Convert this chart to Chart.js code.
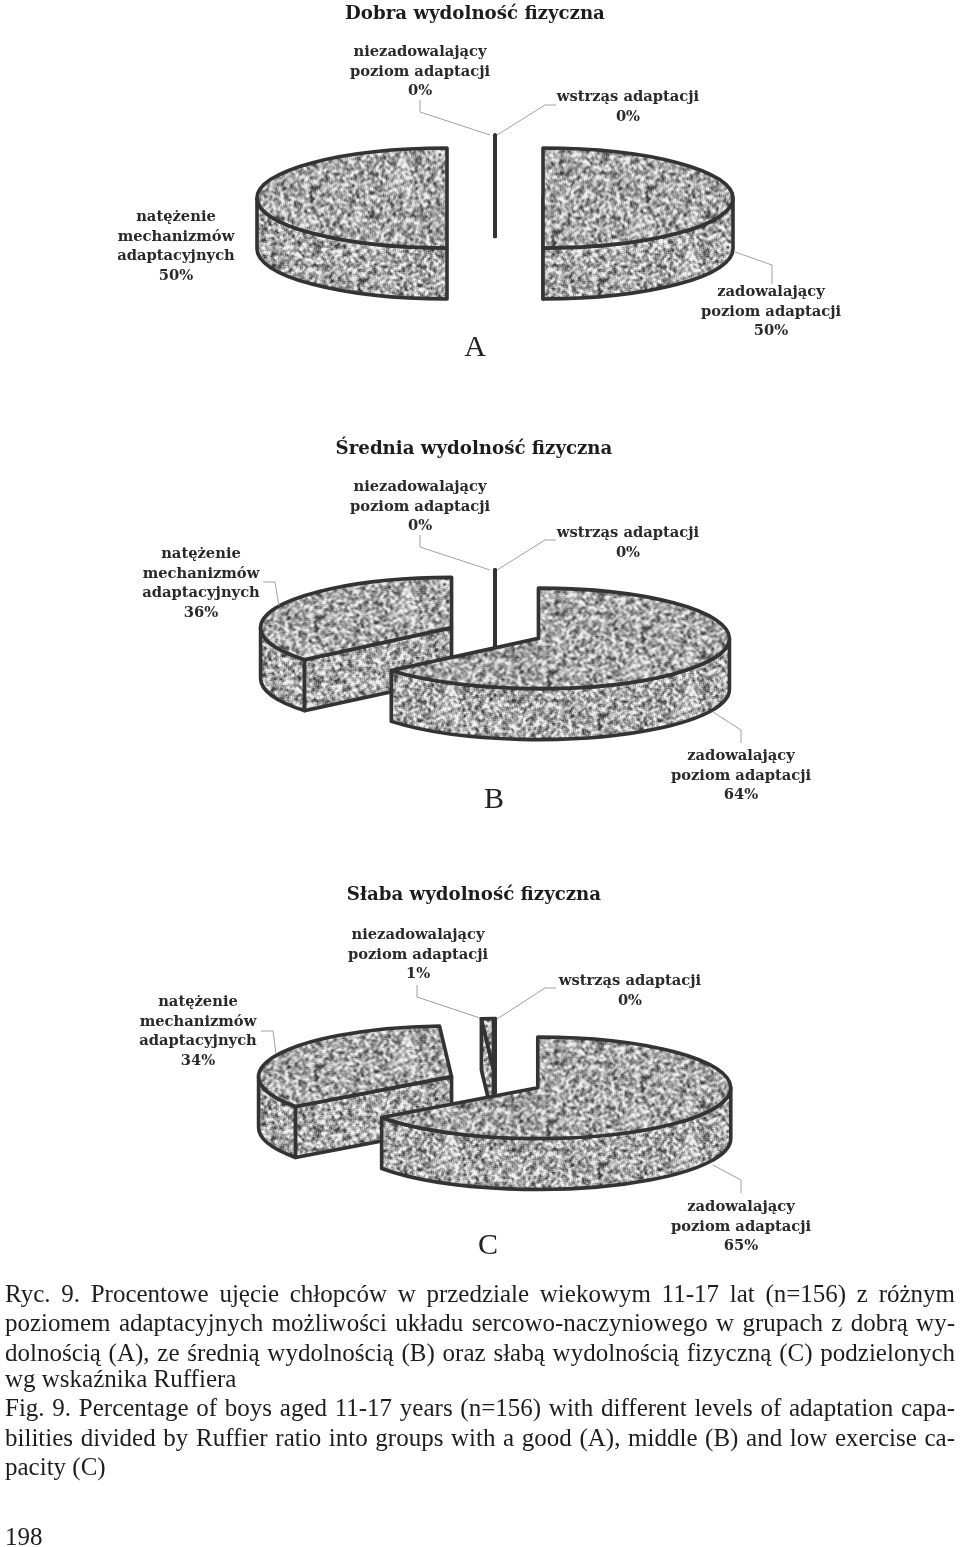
<!doctype html>
<html>

<head>
    <title>Ryc. 9</title>
    <meta charset="utf-8">
    <script src="https://cdn.jsdelivr.net/npm/chart.js@4/dist/chart.umd.js"></script>
    <style>
    html, body{
        margin: 0;
        background: #fff;
    }
    #page{
        position: relative;
        width: 960px;
        height: 1547px;
        overflow: hidden;
    }
    #page canvas, #leaders{
        position: absolute;
        left: 0;
    }
    .note, .title, .letter, .caption{
        position: absolute;
        white-space: nowrap;
    }
    .note{
        font: bold 14.7px/19.7px "DejaVu Serif", serif;
        color: #2a2a2a;
        text-align: center;
        transform: translateX(-50%);
    }
    .title{
        font: bold 18.2px/22px "DejaVu Serif", serif;
        color: #1c1c1c;
        transform: translateX(-50%);
    }
    .letter{
        font: 30px/34px "Liberation Serif", serif;
        color: #222;
        transform: translateX(-50%);
    }
    .caption{
        left: 5px;
        width: 950px;
        font: 25px/29px "Liberation Serif", serif;
        color: #1d1d1d;
        white-space: normal;
    }
    .caption.just{
        text-align: justify;
        text-align-last: justify;
    }
    </style>
</head>

<body>
    <div id="page">
        <canvas id="chartA" width="960" height="400" style="top:-2px"></canvas>
        <canvas id="chartB" width="960" height="400" style="top:433px"></canvas>
        <canvas id="chartC" width="960" height="400" style="top:882px"></canvas>
        <svg id="leaders" width="960" height="1547" style="top:0" fill="none" stroke="#a0a0a0" stroke-width="1">
            <polyline points="420,100 420,112 490,135"/>
            <polyline points="556,105 545,105 497,135"/>
            <polyline points="735,252 772,265 772,284"/>
            <polyline points="420,535 420,547 490,570"/>
            <polyline points="556,540 545,540 497,570"/>
            <polyline points="263,582 275,582 279,606"/>
            <polyline points="713,712 741,730 741,743"/>
            <polyline points="417,985 417,997 480,1018"/>
            <polyline points="556,988 545,988 497,1019"/>
            <polyline points="261,1031 273,1031 276,1054"/>
            <polyline points="713,1165 741,1180 741,1193"/>
        </svg>
    </div>
    <script>
    // clockwise from the top of each pie
    var categories = ['wstrząs adaptacji', 'zadowalający poziom adaptacji', 'natężenie mechanizmów adaptacyjnych', 'niezadowalający poziom adaptacji'];
    var valuesA = [0, 50, 50, 0];
    var valuesB = [0, 64, 36, 0];
    var valuesC = [0, 65, 34, 1];

    var titles = ['Dobra wydolność fizyczna', 'Średnia wydolność fizyczna', 'Słaba wydolność fizyczna'];
    var letters = ['A', 'B', 'C'];
    var captionLines = [
        'Ryc. 9. Procentowe ujęcie chłopców w przedziale wiekowym 11-17 lat (n=156) z różnym',
        'poziomem adaptacyjnych możliwości układu sercowo-naczyniowego w grupach z dobrą wy-',
        'dolnością (A), ze średnią wydolnością (B) oraz słabą wydolnością fizyczną (C) podzielonych',
        'wg wskaźnika Ruffiera',
        'Fig. 9. Percentage of boys aged 11-17 years (n=156) with different levels of adaptation capa-',
        'bilities divided by Ruffier ratio into groups with a good (A), middle (B) and low exercise ca-',
        'pacity (C)'
    ];

    // how the flat pie is tipped over
    var squash = 0.263;
    var depth = 51;
    var explode = 48;
    var lineColor = '#333';

    // grainy gray fill, same every run
    function makeTile(yScale) {
        var size = 240, seed = 12345, i, x, y;
        function next() {
            seed = (seed * 1103515245 + 12345) & 0x7fffffff;
            return seed / 0x7fffffff;
        }
        var raw = [];
        for (i = 0; i < size * size; i++) raw.push(next());
        function boxed(px, py, reach) {
            var sum = 0;
            for (var dy = -reach; dy <= reach; dy++) {
                for (var dx = -reach; dx <= reach; dx++) {
                    sum += raw[((py + dy + size) % size) * size + ((px + dx + size) % size)];
                }
            }
            return sum / ((2 * reach + 1) * (2 * reach + 1));
        }
        var tile = document.createElement('canvas');
        tile.width = tile.height = size;
        var tctx = tile.getContext('2d');
        var img = tctx.createImageData(size, size);
        for (y = 0; y < size; y++) {
            for (x = 0; x < size; x++) {
                i = y * size + x;
                var soft = boxed(x, y, 1);
                var coarse = boxed(x, y, 2);
                var v = 172 + (soft - 0.5) * 400 + (coarse - 0.5) * 130;
                if (soft < 0.29) v -= 45;
                v = Math.max(60, Math.min(240, v));
                img.data[i * 4] = img.data[i * 4 + 1] = img.data[i * 4 + 2] = v;
                img.data[i * 4 + 3] = 255;
            }
        }
        tctx.putImageData(img, 0, 0);
        var pattern = tctx.createPattern(tile, 'repeat');
        pattern.setTransform(new DOMMatrix().scale(1, yScale));
        return pattern;
    }
    var topGrain = makeTile(1 / squash);
    var wallGrain = makeTile(1);

    function paint(ctx, fill) {
        if (fill) {
            ctx.fillStyle = wallGrain;
            ctx.fill();
        }
        ctx.stroke();
    }

    // draws the arcs the pie controller laid out, pushed apart and given a wall
    var tiltedPie = {
        id: 'tiltedPie',
        beforeDatasetDraw: function (chart, args) {
            var ctx = chart.ctx;
            var arcs = chart.getDatasetMeta(args.index).data.map(function (el) {
                var mid = (el.startAngle + el.endAngle) / 2;
                return {
                    el: el,
                    x: el.x + Math.cos(mid) * explode,
                    y: el.y + Math.sin(mid) * explode * squash
                };
            });
            arcs.sort(function (a, b) { return a.y - b.y; });

            ctx.save();
            ctx.strokeStyle = lineColor;
            ctx.lineWidth = 3.6;
            ctx.lineJoin = 'round';
            arcs.forEach(function (arc) {
                var el = arc.el, r = el.outerRadius, ry = r * squash;
                var a = el.startAngle, b = el.endAngle;
                var px = function (t) { return arc.x + Math.cos(t) * r; };
                var py = function (t) { return arc.y + Math.sin(t) * ry; };

                // cut faces
                [[a, Math.cos(a) < 0], [b, Math.cos(b) > 0]].forEach(function (edge) {
                    if (!edge[1] && b > a) return;
                    ctx.beginPath();
                    ctx.moveTo(arc.x, arc.y);
                    ctx.lineTo(px(edge[0]), py(edge[0]));
                    ctx.lineTo(px(edge[0]), py(edge[0]) + depth);
                    ctx.lineTo(arc.x, arc.y + depth);
                    ctx.closePath();
                    paint(ctx, b > a);
                });

                // outer wall, only the part that faces the viewer
                var from = Math.max(a, 0), to = Math.min(b, Math.PI);
                if (to > from) {
                    ctx.beginPath();
                    ctx.ellipse(arc.x, arc.y, r, ry, 0, from, to);
                    ctx.lineTo(px(to), py(to) + depth);
                    ctx.ellipse(arc.x, arc.y + depth, r, ry, 0, to, from, true);
                    ctx.closePath();
                    paint(ctx, true);
                }

                // top face, filled by the arc element itself
                ctx.save();
                ctx.translate(arc.x, arc.y);
                ctx.scale(1, squash);
                ctx.translate(-el.x, -el.y);
                el.draw(ctx);
                ctx.restore();
                ctx.beginPath();
                ctx.moveTo(arc.x, arc.y);
                ctx.ellipse(arc.x, arc.y, r, ry, 0, a, b);
                ctx.closePath();
                ctx.stroke();
            });
            ctx.restore();
            return false;
        }
    };

    function makePie(id, values, radius) {
        return new Chart(document.getElementById(id), {
            type: 'pie',
            data: {
                labels: categories,
                datasets: [{
                    data: values,
                    radius: radius,
                    backgroundColor: topGrain,
                    borderWidth: 0
                }]
            },
            options: {
                responsive: false,
                animation: false,
                events: [],
                layout: { padding: { left: 30 } },
                plugins: { legend: { display: false }, tooltip: { enabled: false } }
            },
            plugins: [tiltedPie]
        });
    }
    makePie('chartA', valuesA, 190);
    makePie('chartB', valuesB, 191);
    makePie('chartC', valuesC, 193);

    // text placed around the pies: label, share, centre x, first line top
    var page = document.getElementById('page');
    function addText(cls, html, x, top) {
        var d = document.createElement('div');
        d.className = cls;
        d.innerHTML = html;
        if (x !== null) d.style.left = x + 'px';
        d.style.top = top + 'px';
        page.appendChild(d);
    }
    function note(lines, value, x, top) {
        addText('note', lines.concat([value + '%']).join('<br>'), x, top);
    }
    var unsat = ['niezadowalający', 'poziom adaptacji'];
    var shock = ['wstrząs adaptacji'];
    var tension = ['natężenie', 'mechanizmów', 'adaptacyjnych'];
    var sat = ['zadowalający', 'poziom adaptacji'];

    addText('title', titles[0], 475, 2);
    note(unsat, valuesA[3], 420, 41);
    note(shock, valuesA[0], 628, 86);
    note(tension, valuesA[2], 176, 206);
    note(sat, valuesA[1], 771, 281);
    addText('letter', letters[0], 475, 329);

    addText('title', titles[1], 474, 437);
    note(unsat, valuesB[3], 420, 476);
    note(shock, valuesB[0], 628, 522);
    note(tension, valuesB[2], 201, 543);
    note(sat, valuesB[1], 741, 745);
    addText('letter', letters[1], 494, 781);

    addText('title', titles[2], 474, 883);
    note(unsat, valuesC[3], 418, 924);
    note(shock, valuesC[0], 630, 970);
    note(tension, valuesC[2], 198, 991);
    note(sat, valuesC[1], 741, 1196);
    addText('letter', letters[2], 488, 1227);

    var captionTops = [1279, 1308, 1338, 1364, 1393, 1423, 1452];
    captionLines.forEach(function (line, i) {
        var last = (i === 3 || i === 6);
        addText(last ? 'caption' : 'caption just', line, null, captionTops[i]);
    });
    addText('caption', '198', null, 1522);
    </script>
</body>

</html>
